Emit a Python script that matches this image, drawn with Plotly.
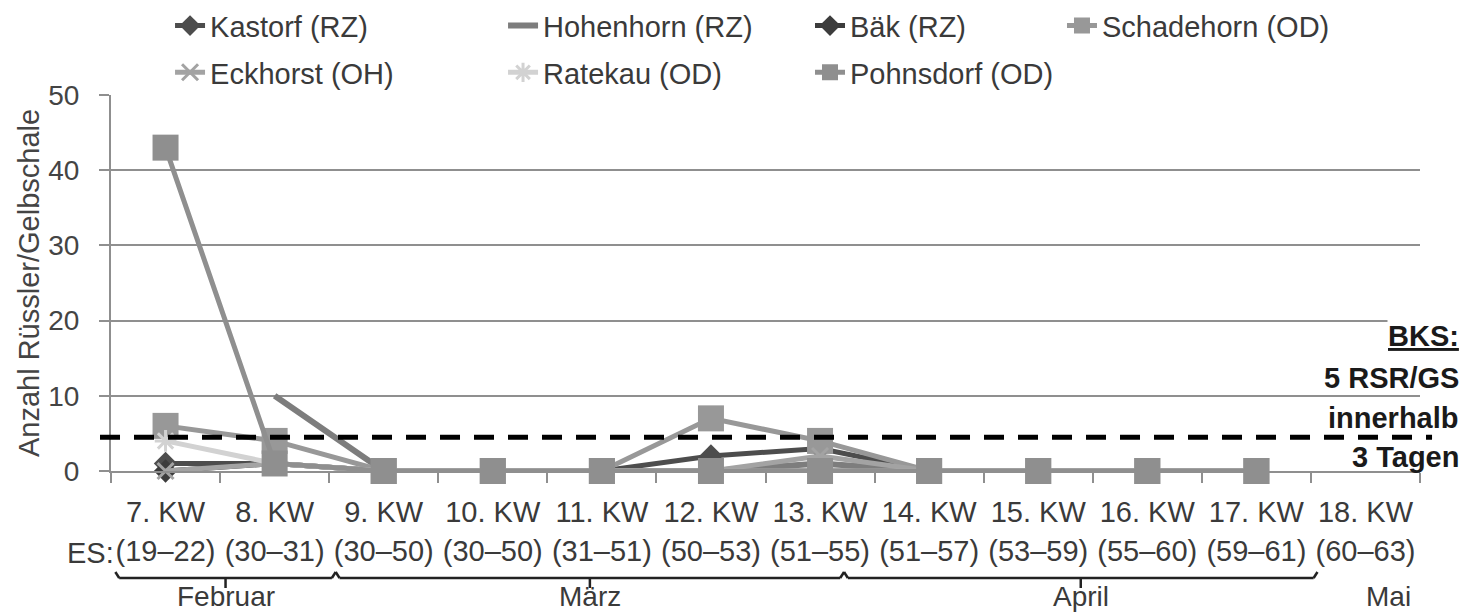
import plotly.graph_objects as go

# ---------------- data ----------------
WEEKS = ["7. KW", "8. KW", "9. KW", "10. KW", "11. KW", "12. KW",
         "13. KW", "14. KW", "15. KW", "16. KW", "17. KW", "18. KW"]
ES_RANGES = ["(19–22)", "(30–31)", "(30–50)", "(30–50)", "(31–51)", "(50–53)",
             "(51–55)", "(51–57)", "(53–59)", "(55–60)", "(59–61)", "(60–63)"]

KASTORF = [1, 1, 0, 0, 0, 2, 3, 0, 0, 0, 0, None]
HOHENHORN = [None, 10, 0, 0, 0, 0, 1, 0, 0, 0, 0, None]
BAEK = [0, 1, 0, 0, 0, 0, 0, 0, 0, 0, 0, None]
SCHADEHORN = [6, 4, 0, 0, 0, 7, 4, 0, 0, 0, 0, None]
ECKHORST = [0, 1, 0, 0, 0, 0, 2, 0, 0, 0, 0, None]
RATEKAU = [4, 1, 0, 0, 0, 0, 0, 0, 0, 0, 0, None]
POHNSDORF = [43, 1, 0, 0, 0, 0, 0, 0, 0, 0, 0, None]

THRESHOLD = 4.5
THRESHOLD_TEXT = ["<u>BKS:</u>", "5 RSR/GS", "innerhalb", "3 Tagen"]
THRESHOLD_TEXT_Y = [17.9, 12.4, 7.1, 1.8]

MONTHS = ["Februar", "März", "April", "Mai"]
MONTH_SPANS = [(-0.46, 1.56), (1.56, 6.22), (6.22, 10.56), None]
MONTH_CENTERS = [0.55, 3.89, 8.39, 11.21]

# ---------------- style ----------------
FONT = "Liberation Sans, Arial, sans-serif"
TXT = "#3a3a3a"
GRID = "#8f8f8f"

series = [
    # name, values, color, marker symbol, marker size, legend, line width
    ("Kastorf (RZ)", KASTORF, "#4d4d4d", "diamond", 18, "legend", 5),
    ("Hohenhorn (RZ)", HOHENHORN, "#7d7d7d", None, 0, "legend2", 6),
    ("Bäk (RZ)", BAEK, "#3c3c3c", "diamond", 18, "legend3", 5),
    ("Schadehorn (OD)", SCHADEHORN, "#989898", "square", 26, "legend4", 5),
    ("Eckhorst (OH)", ECKHORST, "#a3a3a3", "x-thin-open", 16, "legend", 5),
    ("Ratekau (OD)", RATEKAU, "#d2d2d2", "asterisk-open", 18, "legend2", 5),
    ("Pohnsdorf (OD)", POHNSDORF, "#8f8f8f", "square", 26, "legend3", 5),
]

fig = go.Figure()

for name, vals, color, sym, size, leg, lw in series:
    if sym is None:
        mode = "lines"
        marker = None
    else:
        mode = "lines+markers"
        if sym.endswith("open"):
            marker = dict(symbol=sym, size=size, color=color,
                          line=dict(color=color, width=3))
        else:
            marker = dict(symbol=sym, size=size, color=color, line=dict(width=0))
    fig.add_trace(go.Scatter(
        x=WEEKS, y=vals, name=name, mode=mode,
        line=dict(color=color, width=lw),
        marker=marker, cliponaxis=False,
        legend=leg, legendgroup=name,
    ))

# invisible trace so the secondary (ES) axis exists
fig.add_trace(go.Scatter(x=list(range(len(ES_RANGES))), y=[None] * len(ES_RANGES),
                         xaxis="x2", showlegend=False, hoverinfo="skip"))

# threshold line
fig.add_shape(type="line", xref="paper", yref="y",
              x0=-0.0084, x1=1.0092, y0=THRESHOLD, y1=THRESHOLD,
              line=dict(color="black", width=5, dash="20px,14px"))

# threshold annotation
for txt, yy in zip(THRESHOLD_TEXT, THRESHOLD_TEXT_Y):
    fig.add_annotation(xref="paper", yref="y", x=1.0306, y=yy, text=txt,
                       showarrow=False, xanchor="right", yanchor="middle",
                       font=dict(family=FONT, size=29, color="#1a1a1a", weight="bold"),
                       bgcolor="white" if txt.startswith("<u>") else None,
                       borderpad=0)

# month braces and labels
Y_BAR, Y_HOOK, Y_TICK = -0.2846, -0.2686, -0.3112
for label, span, cx in zip(MONTHS, MONTH_SPANS, MONTH_CENTERS):
    if span is not None:
        x0, x1 = span
        d = 0.035
        segs = [
            (x0, Y_HOOK, x0 + d, Y_BAR),
            (x0 + d, Y_BAR, x1 - d, Y_BAR),
            (x1 - d, Y_BAR, x1, Y_HOOK),
            (cx, Y_BAR, cx, Y_TICK),
        ]
        for a, b, c, e in segs:
            fig.add_shape(type="line", xref="x", yref="paper",
                          x0=a, y0=b, x1=c, y1=e,
                          line=dict(color="#222222", width=2.5))
    fig.add_annotation(xref="x", yref="paper", x=cx, y=-0.3795, text=label,
                       showarrow=False, xanchor="center", yanchor="bottom",
                       font=dict(family=FONT, size=28, color=TXT))

fig.add_annotation(xref="paper", yref="paper", x=-0.0155, y=-0.218, text="ES:",
                   showarrow=False, xanchor="center", yanchor="middle",
                   font=dict(family=FONT, size=29, color=TXT))

legend_common = dict(orientation="v", xanchor="left", yanchor="top",
                     bgcolor="rgba(0,0,0,0)", tracegroupgap=6, itemwidth=30,
                     font=dict(family=FONT, size=29, color=TXT))

LEG_Y = 1.252
fig.update_layout(
    width=1465, height=614,
    margin=dict(l=111, r=45, t=95, b=143, autoexpand=False),
    paper_bgcolor="white", plot_bgcolor="white",
    font=dict(family=FONT, size=28, color=TXT),
    legend=dict(x=0.0451, y=LEG_Y, **legend_common),
    legend2=dict(x=0.2995, y=LEG_Y, **legend_common),
    legend3=dict(x=0.534, y=LEG_Y, **legend_common),
    legend4=dict(x=0.7265, y=LEG_Y, **legend_common),
    xaxis=dict(type="category", categoryorder="array", categoryarray=WEEKS,
               range=[-0.5, len(WEEKS) - 0.5], tickson="boundaries",
               ticks="outside", ticklen=10, tickwidth=2, tickcolor=GRID,
               showline=True, linecolor=GRID, linewidth=2, showgrid=False,
               zeroline=False, ticklabelstandoff=14,
               tickfont=dict(family=FONT, size=29, color=TXT)),
    xaxis2=dict(overlaying="x", anchor="y", side="bottom", type="linear",
                range=[-0.5, len(WEEKS) - 0.5], tickmode="array",
                tickvals=list(range(len(ES_RANGES))), ticktext=ES_RANGES,
                showline=False, showgrid=False, zeroline=False, ticks="",
                ticklabelstandoff=60,
                tickfont=dict(family=FONT, size=29, color=TXT)),
    yaxis=dict(range=[0, 50], dtick=10, ticks="outside", ticklen=10, tickwidth=2,
               tickcolor=GRID, showline=True, linecolor=GRID, linewidth=2,
               showgrid=True, gridcolor=GRID, gridwidth=2, zeroline=False,
               ticklabelstandoff=14,
               tickfont=dict(family="Liberation Sans, Arial, sans-serif", size=28, color="#444444"),
               title=dict(text="Anzahl Rüssler/Gelbschale", standoff=0,
                          font=dict(family=FONT, size=29, color="#444444"))),
    showlegend=True,
)

fig.write_html("out.html")
